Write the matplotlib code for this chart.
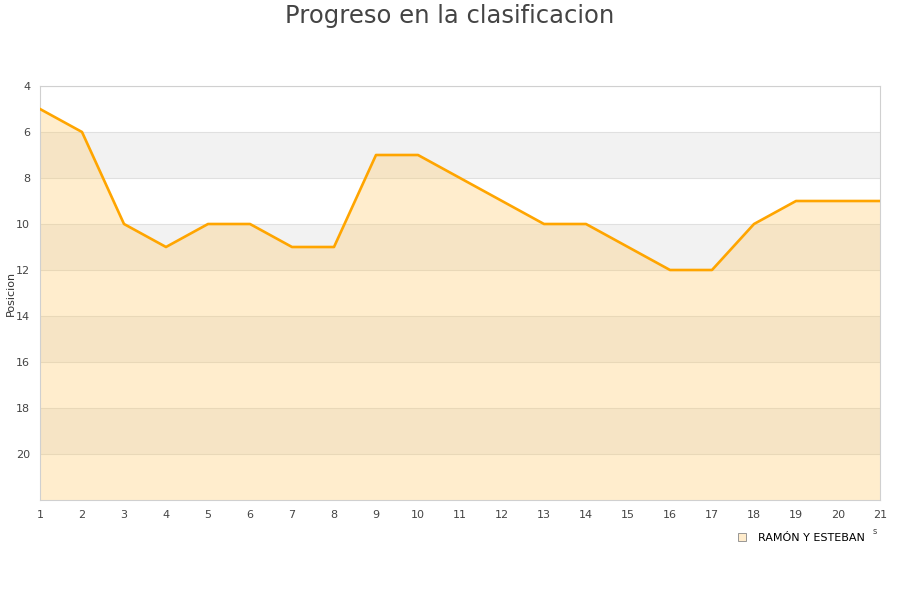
import matplotlib
matplotlib.use('Agg')
import matplotlib.pyplot as plt
from matplotlib.lines import Line2D

jornadas = list(range(1, 22))
posicion = [5, 6, 10, 11, 10, 10, 11, 11, 7, 7, 8, 9, 10, 10, 11, 12, 12, 10, 9, 9, 9]
equipo = 'RAMÓN Y ESTEBAN'
y_ticks = [4, 6, 8, 10, 12, 14, 16, 18, 20]

fig = plt.figure(figsize=(9, 6), dpi=100)
ax = fig.add_axes([40/900, 1 - 500/600, 840/900, 414/600])

# bandas alternas
for lo in range(6, 22, 4):
    ax.axhspan(lo, lo + 2, color='#f2f2f2', zorder=0, lw=0)
for t in y_ticks:
    ax.axhline(t, color='#e0e0e0', lw=0.8, zorder=1)

ax.fill_between(jornadas, posicion, 22, color='#ffc966', alpha=0.32, lw=0, zorder=2)
ax.plot(jornadas, posicion, color='#ffa500', lw=1.9, zorder=3)

ax.set_xlim(1, 21)
ax.set_ylim(22, 4)
ax.set_xticks(jornadas)
ax.set_yticks(y_ticks)
ax.tick_params(length=0, labelsize=8, colors='#444444', pad=7)
for s in ax.spines.values():
    s.set_color('#d0d0d0')

fig.text(11/900, 1 - 293/600, 'Posicion', rotation=90, ha='center', va='center',
         fontsize=8, color='#333333')
fig.text(0.5, 1 - 16/600, 'Progreso en la clasificacion', ha='center', va='center',
         fontsize=17.5, color='#444444')
fig.text(875/900, 1 - 532/600, 's', ha='center', va='center', fontsize=6, color='#444444')

h = Line2D([], [], marker='s', ls='', markersize=6, markerfacecolor='#ffeccc',
           markeredgecolor='#888888', markeredgewidth=0.6)
fig.legend([h], [equipo], loc='center', bbox_to_anchor=(798/900, 1 - 538/600),
           frameon=False, fontsize=8, handletextpad=0.4, borderpad=0)

fig.savefig('out.png', dpi=100)
